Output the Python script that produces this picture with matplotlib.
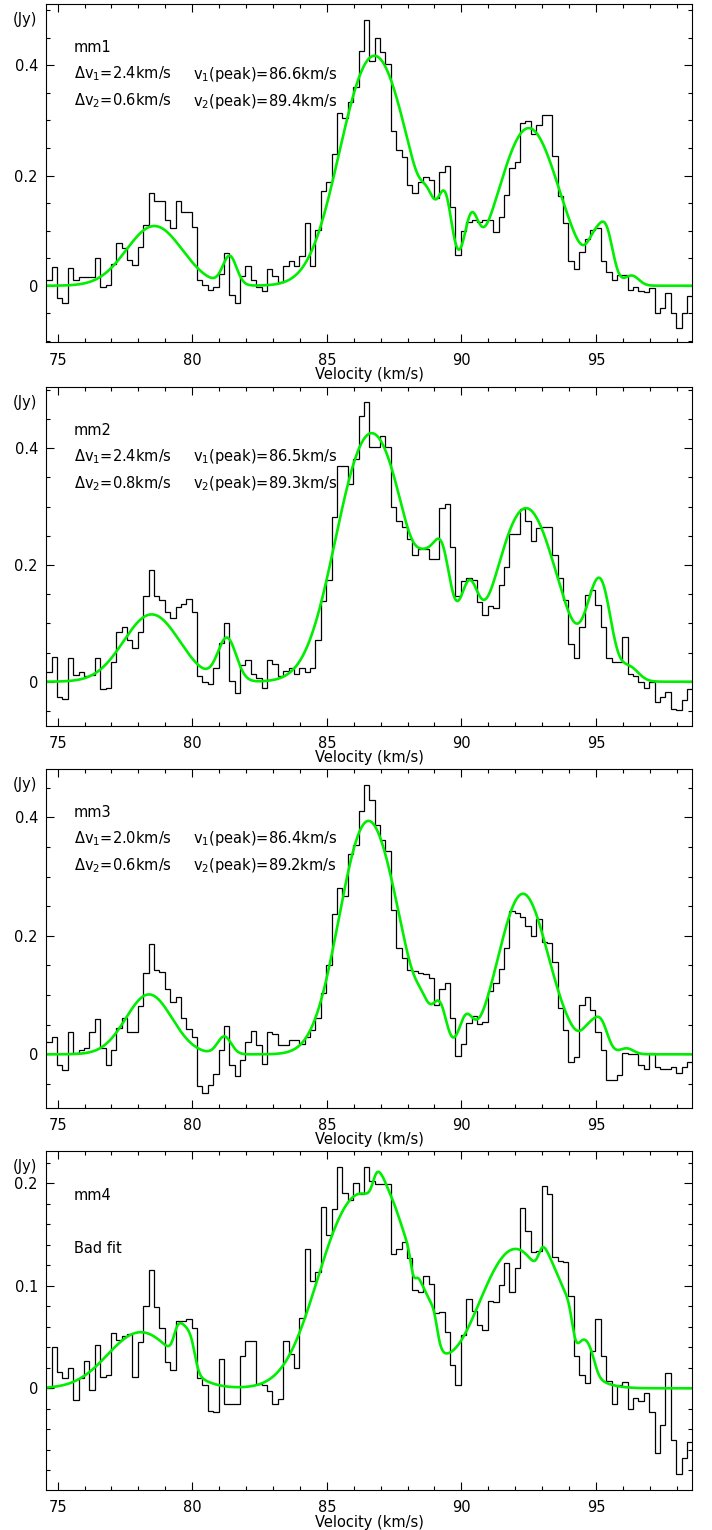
import numpy as np
import matplotlib
matplotlib.use("Agg")
import matplotlib.pyplot as plt
from matplotlib.ticker import MultipleLocator, FuncFormatter

plt.rcParams["font.family"] = "DejaVu Sans"
plt.rcParams["mathtext.fontset"] = "dejavusans"

# velocity channels (km/s)
v_start = 74.58
chan_width = 0.2
n_chan = 120

# observed spectra, one value per channel (Jy)
flux_mm1 = [
    0.010, 0.034, -0.022, -0.032, 0.033, 0.010, 0.015, 0.015, 0.015, 0.051,
    -0.002, 0.001, 0.040, 0.077, 0.068, 0.047, 0.037, 0.071, 0.111, 0.168,
    0.153, 0.153, 0.120, 0.105, 0.153, 0.134, 0.133, 0.107, 0.010, 0.001,
    -0.008, -0.002, 0.022, 0.060, -0.017, -0.032, 0.018, 0.036, 0.010, -0.002,
    -0.010, 0.031, 0.018, 0.007, 0.036, 0.044, 0.036, 0.054, 0.113, 0.036,
    0.101, 0.172, 0.188, 0.239, 0.314, 0.304, 0.334, 0.361, 0.426, 0.482,
    0.407, 0.449, 0.425, 0.402, 0.281, 0.247, 0.234, 0.182, 0.168, 0.189,
    0.198, 0.192, 0.159, 0.206, 0.218, 0.142, 0.056, 0.100, 0.116, 0.119,
    0.116, 0.119, 0.119, 0.098, 0.124, 0.165, 0.213, 0.225, 0.296, 0.299,
    0.275, 0.292, 0.310, 0.310, 0.235, 0.162, 0.113, 0.044, 0.031, 0.062,
    0.084, 0.102, 0.104, 0.044, 0.024, 0.011, 0.019, 0.019, -0.008, -0.002,
    -0.009, -0.011, -0.005, -0.050, -0.041, -0.013, -0.050, -0.077, -0.050, -0.019,
]
flux_mm2 = [
    0.017, 0.042, -0.026, -0.030, 0.040, 0.011, 0.017, 0.009, 0.011, 0.040,
    -0.013, -0.011, 0.034, 0.086, 0.093, 0.071, 0.058, 0.086, 0.147, 0.192,
    0.147, 0.140, 0.120, 0.110, 0.128, 0.134, 0.141, 0.120, 0.009, 0.000,
    -0.004, 0.024, 0.067, 0.100, 0.002, -0.020, 0.029, 0.037, 0.014, 0.006,
    -0.010, 0.037, 0.030, 0.010, 0.019, 0.024, 0.014, 0.023, 0.017, 0.023,
    0.071, 0.138, 0.174, 0.282, 0.370, 0.370, 0.339, 0.381, 0.456, 0.479,
    0.403, 0.403, 0.421, 0.403, 0.300, 0.275, 0.266, 0.244, 0.218, 0.227,
    0.227, 0.211, 0.211, 0.298, 0.305, 0.231, 0.147, 0.172, 0.178, 0.174,
    0.136, 0.114, 0.130, 0.126, 0.166, 0.197, 0.254, 0.254, 0.296, 0.275,
    0.241, 0.264, 0.266, 0.266, 0.217, 0.178, 0.140, 0.064, 0.040, 0.094,
    0.148, 0.157, 0.131, 0.093, 0.040, 0.033, 0.034, 0.077, 0.013, 0.009,
    0.000, -0.011, 0.000, -0.035, -0.026, -0.018, -0.047, -0.049, -0.031, -0.013,
]
flux_mm3 = [
    0.020, 0.030, -0.018, -0.026, 0.038, 0.003, 0.008, 0.010, 0.038, 0.059,
    0.011, -0.018, 0.008, 0.045, 0.061, 0.037, 0.038, 0.081, 0.138, 0.186,
    0.142, 0.139, 0.111, 0.089, 0.096, 0.061, 0.043, 0.030, -0.053, -0.065,
    -0.051, -0.033, 0.007, 0.047, -0.018, -0.037, -0.010, 0.020, 0.040, 0.016,
    -0.017, 0.037, 0.034, 0.015, 0.015, 0.024, 0.024, 0.017, 0.030, 0.041,
    0.061, 0.103, 0.151, 0.237, 0.281, 0.268, 0.338, 0.353, 0.411, 0.455,
    0.429, 0.387, 0.361, 0.343, 0.244, 0.180, 0.162, 0.142, 0.141, 0.138,
    0.135, 0.128, 0.084, 0.111, 0.121, 0.061, -0.002, 0.017, 0.053, 0.065,
    0.052, 0.054, 0.107, 0.121, 0.144, 0.179, 0.242, 0.238, 0.232, 0.216,
    0.200, 0.229, 0.189, 0.188, 0.155, 0.078, 0.041, -0.013, -0.004, 0.083,
    0.097, 0.075, 0.037, 0.008, -0.044, -0.044, -0.035, 0.003, 0.000, 0.000,
    -0.018, -0.025, 0.003, -0.021, -0.024, -0.024, -0.022, -0.031, -0.022, -0.013,
]
flux_mm4 = [
    0.000, 0.040, 0.016, 0.010, 0.020, -0.011, 0.010, 0.027, -0.002, 0.042,
    0.011, 0.013, 0.054, 0.047, 0.051, 0.053, 0.011, 0.045, 0.080, 0.115,
    0.079, 0.059, 0.026, 0.018, 0.066, 0.066, 0.068, 0.059, 0.010, 0.003,
    -0.022, -0.023, 0.029, -0.015, -0.015, -0.015, 0.032, 0.046, 0.046, 0.004,
    0.003, -0.003, -0.015, -0.010, 0.046, 0.033, 0.020, 0.069, 0.136, 0.105,
    0.113, 0.177, 0.150, 0.175, 0.216, 0.191, 0.184, 0.200, 0.190, 0.216,
    0.202, 0.199, 0.199, 0.199, 0.131, 0.136, 0.143, 0.127, 0.096, 0.094,
    0.110, 0.102, 0.073, 0.074, 0.055, 0.023, 0.003, 0.052, 0.087, 0.075,
    0.062, 0.057, 0.085, 0.084, 0.101, 0.122, 0.094, 0.117, 0.176, 0.153,
    0.133, 0.134, 0.197, 0.190, 0.128, 0.124, 0.123, 0.090, 0.032, 0.013,
    0.005, 0.036, 0.068, 0.032, 0.007, -0.015, 0.003, 0.006, -0.020, -0.009,
    -0.012, -0.005, -0.023, -0.063, -0.036, 0.015, -0.050, -0.084, -0.068, -0.052,
]

# N2H+ (1-0) hyperfine pattern: offsets (km/s) and relative strengths
hfs_offset = [-8.006, -0.611, 0.000, 0.956, 5.542, 5.982, 6.936]
hfs_weight = [3 / 27, 3 / 27, 7 / 27, 5 / 27, 3 / 27, 5 / 27, 1 / 27]

# two-component hfs fits: broad (1) and narrow (2)
v1_peak = [86.6, 86.5, 86.4, 86.1]
dv1 = [2.4, 2.4, 2.0, 2.8]
tau1 = [0.6, 0.85, 0.2, 1.4]
amp1 = [1.68, 1.28, 4.6, 0.38]
v2_peak = [89.4, 89.3, 89.2, 87.72]
dv2 = [0.6, 0.8, 0.6, 0.5]
tau2 = [0.1, 0.1, 0.1, 30.0]
amp2 = [4.7, 6.6, 2.7, 0.04]

names = ["mm1", "mm2", "mm3", "mm4"]
notes = [
    ("$\\Delta$v$_1$=2.4km/s", "v$_1$(peak)=86.6km/s", "$\\Delta$v$_2$=0.6km/s", "v$_2$(peak)=89.4km/s"),
    ("$\\Delta$v$_1$=2.4km/s", "v$_1$(peak)=86.5km/s", "$\\Delta$v$_2$=0.8km/s", "v$_2$(peak)=89.3km/s"),
    ("$\\Delta$v$_1$=2.0km/s", "v$_1$(peak)=86.4km/s", "$\\Delta$v$_2$=0.6km/s", "v$_2$(peak)=89.2km/s"),
    None,
]
y_limits = [(-0.1027, 0.5113), (-0.0754, 0.5056), (-0.0901, 0.4824), (-0.0992, 0.2315)]
y_major = [0.2, 0.2, 0.2, 0.1]
y_minor = [0.05, 0.05, 0.05, 0.02]
spectra = [flux_mm1, flux_mm2, flux_mm3, flux_mm4]


def hfs_profile(v, vc, width, tau, amp):
    sig = width / 2.3548
    phi = np.zeros_like(v)
    for d, w in zip(hfs_offset, hfs_weight):
        phi += w * np.exp(-0.5 * ((v - vc - d) / sig) ** 2)
    return amp * (1.0 - np.exp(-tau * phi))


edges = v_start + chan_width * np.arange(n_chan + 1)
vfine = np.linspace(edges[0], edges[-1], 3000)

fig = plt.figure(figsize=(7.12, 15.3), dpi=100)
W, H = 712.0, 1530.0
tops = [4.0, 386.7, 768.5, 1151.0]
bottoms = [342.3, 725.7, 1107.7, 1490.0]
left, right = 46.3, 692.3

green = "#00ee00"
yfmt = FuncFormatter(lambda y, _: "0" if abs(y) < 1e-9 else f"{y:g}")
fs = 10.5

for i in range(4):
    ax = fig.add_axes([left / W, 1 - bottoms[i] / H, (right - left) / W, (bottoms[i] - tops[i]) / H])
    ax.stairs(spectra[i], edges, color="black", lw=0.9, baseline=None)
    fit = hfs_profile(vfine, v1_peak[i], dv1[i], tau1[i], amp1[i]) + \
        hfs_profile(vfine, v2_peak[i], dv2[i], tau2[i], amp2[i])
    ax.plot(vfine, fit, color=green, lw=1.9)

    ax.set_xlim(edges[0], edges[-1])
    ax.set_ylim(*y_limits[i])
    ax.xaxis.set_major_locator(MultipleLocator(5))
    ax.xaxis.set_minor_locator(MultipleLocator(1))
    ax.yaxis.set_major_locator(MultipleLocator(y_major[i]))
    ax.yaxis.set_minor_locator(MultipleLocator(y_minor[i]))
    ax.yaxis.set_major_formatter(yfmt)
    ax.tick_params(which="both", direction="in", top=True, right=True, width=0.8, labelsize=fs)
    ax.tick_params(which="major", length=5.8)
    ax.tick_params(which="minor", length=3.1)
    ax.tick_params(axis="x", pad=7.5)
    ax.tick_params(axis="y", pad=6)
    for sp in ax.spines.values():
        sp.set_linewidth(0.8)

    ax.set_xlabel("Velocity (km/s)", fontsize=fs, labelpad=-0.5)
    ax.text(-0.033, 0.953, "(Jy)", transform=ax.transAxes, ha="center", va="center", fontsize=fs)
    ax.text(0.043, 0.87, names[i], transform=ax.transAxes, ha="left", va="center", fontsize=fs)
    if notes[i] is not None:
        a, b, c, d = notes[i]
        ax.text(0.043, 0.793, a, transform=ax.transAxes, ha="left", va="center", fontsize=fs)
        ax.text(0.227, 0.793, b, transform=ax.transAxes, ha="left", va="center", fontsize=fs)
        ax.text(0.043, 0.713, c, transform=ax.transAxes, ha="left", va="center", fontsize=fs)
        ax.text(0.227, 0.713, d, transform=ax.transAxes, ha="left", va="center", fontsize=fs)
    else:
        ax.text(0.043, 0.713, "Bad fit", transform=ax.transAxes, ha="left", va="center", fontsize=fs)

fig.savefig("out.png", dpi=100)
